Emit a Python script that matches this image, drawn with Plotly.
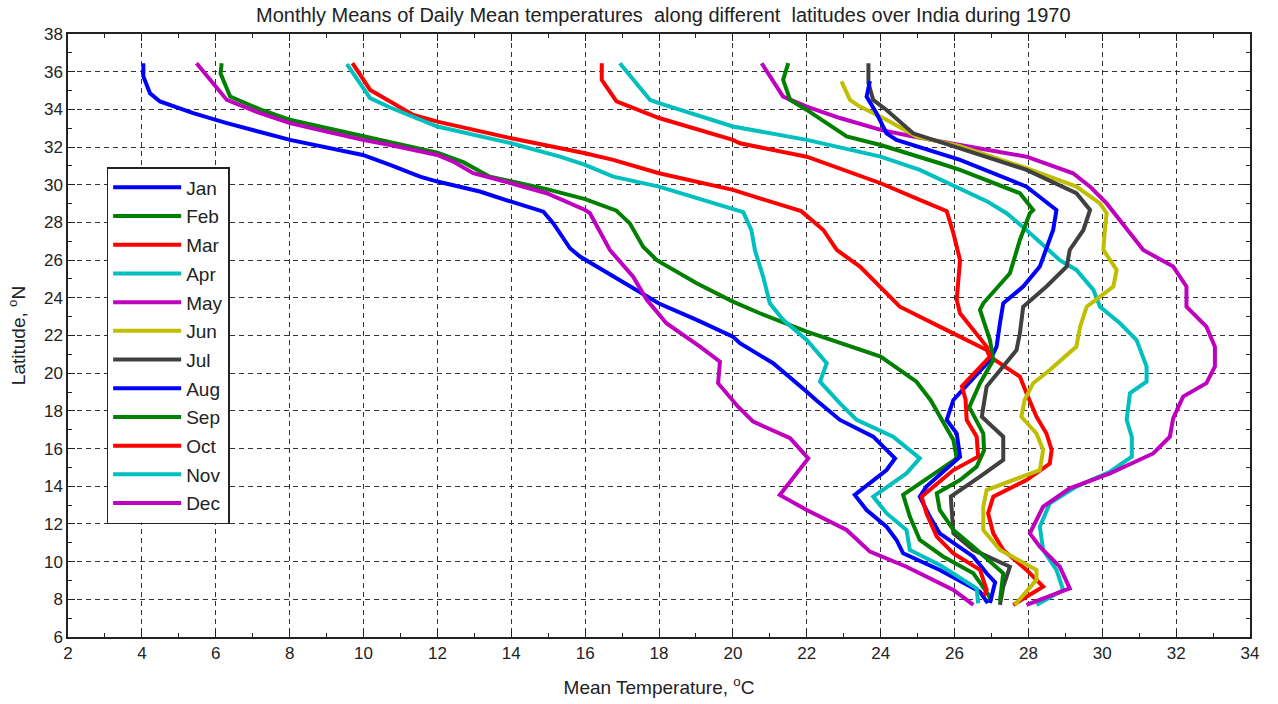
import plotly.graph_objects as go

months = ["Jan", "Feb", "Mar", "Apr", "May", "Jun", "Jul", "Aug", "Sep", "Oct", "Nov", "Dec"]
colors = ["#0000FF", "#008000", "#FF0000", "#00BFBF", "#BF00BF", "#BFBF00",
          "#404040", "#0000FF", "#008000", "#FF0000", "#00BFBF", "#BF00BF"]

jan_lat = [36.45, 35.75, 34.86, 34.42, 33.8, 33.27, 32.38, 31.58, 31.05, 30.43, 30.17, 29.64, 29.1, 28.57, 27.95, 26.63,
           26.19, 25.12, 24.15, 23.7, 22.83, 21.94, 21.59, 20.53, 19.02, 18.58, 17.52, 16.63, 15.48, 14.86, 13.54, 12.74,
           11.85, 11.15, 10.44, 9.56, 8.4, 7.8]
jan_temp = [4.04, 4.04, 4.22, 4.49, 5.39, 6.3, 8.01, 9.98, 10.72, 11.53, 12.0, 13.15, 14.0, 14.87, 15.14, 15.59,
            15.86, 16.76, 17.57, 18.0, 19.02, 20.0, 20.19, 21.09, 22.0, 22.25, 22.9, 23.8, 24.39, 24.16, 23.3, 23.62,
            24.16, 24.43, 24.61, 25.6, 26.69, 26.9]

feb_lat = [36.45, 35.9, 34.68, 34.0, 33.45, 33.0, 32.55, 32.1, 31.7, 31.2, 30.43, 29.77, 29.24, 28.62, 27.95, 26.71,
           26.0, 24.77, 23.8, 23.18, 22.2, 20.88, 19.55, 18.58, 17.69, 16.46, 15.48, 13.54, 12.39, 11.15, 10.26, 9.38,
           8.3, 7.9]
feb_temp = [6.16, 6.13, 6.39, 7.2, 8.0, 9.0, 10.0, 11.0, 12.0, 12.7, 13.42, 14.96, 16.0, 16.85, 17.21, 17.57,
            17.94, 19.02, 20.0, 20.73, 22.0, 24.0, 24.97, 25.35, 25.6, 25.97, 26.06, 24.61, 24.79, 25.06, 25.7, 26.51,
            26.9, 27.0]

mar_lat = [36.45, 35.03, 34.42, 33.7, 33.35, 32.47, 31.67, 31.32, 30.61, 29.73, 29.28, 28.6, 27.6, 26.54, 25.66, 23.53,
           22.47, 21.23, 20.88, 19.82, 18.94, 17.69, 16.8, 15.93, 15.2, 14.33, 13.45, 12.57, 11.5, 10.62, 9.56, 8.67,
           8.14, 7.7]
mar_temp = [9.7, 10.18, 10.72, 11.35, 12.0, 14.0, 16.0, 16.76, 18.0, 20.0, 20.73, 21.85, 22.45, 22.81, 23.44, 24.52,
            25.6, 26.87, 26.96, 27.77, 27.95, 28.22, 28.49, 28.63, 28.58, 27.95, 27.05, 26.91, 27.05, 27.32, 27.95, 28.4,
            27.95, 27.59]

apr_lat = [36.45, 34.5, 34.33, 33.09, 32.38, 31.49, 30.79, 29.95, 29.1, 28.49, 27.6, 26.0, 25.48, 24.42, 23.53, 22.65,
           21.76, 20.35, 19.55, 18.94, 17.52, 16.63, 15.57, 14.77, 13.98, 13.1, 11.85, 10.62, 9.56, 8.5, 7.7]
apr_temp = [16.94, 17.76, 18.0, 20.0, 22.0, 24.0, 25.06, 26.0, 26.9, 27.41, 27.95, 28.85, 29.3, 29.76, 29.94, 30.48,
            30.93, 31.2, 31.2, 30.75, 30.66, 30.8, 30.8, 30.21, 29.3, 28.58, 28.31, 28.4, 28.76, 28.94, 28.22]

may_lat = [36.45, 34.68, 34.15, 33.54, 32.91, 32.56, 32.11, 31.49, 30.61, 29.9, 29.01, 28.14, 26.54, 25.66, 24.6, 23.53,
           22.47, 21.41, 20.35, 19.47, 18.76, 17.6, 16.63, 15.74, 14.68, 13.89, 12.92, 11.5, 10.79, 9.73, 8.58, 7.7]
may_temp = [20.78, 21.36, 22.0, 22.9, 24.0, 24.88, 26.15, 27.95, 29.21, 29.67, 30.12, 30.48, 31.11, 31.92, 32.28, 32.28,
            32.82, 33.05, 33.05, 32.82, 32.19, 31.92, 31.83, 31.38, 30.21, 29.12, 28.4, 28.04, 28.31, 28.85, 29.12, 27.95]

jun_lat = [35.49, 34.5, 34.15, 33.45, 32.56, 32.05, 30.88, 29.9, 29.01, 28.49, 27.6, 26.54, 25.48, 24.6, 23.53, 22.47,
           21.41, 20.17, 19.47, 18.58, 17.69, 16.8, 15.93, 14.86, 13.8, 12.92, 11.68, 10.62, 9.56, 9.03, 7.7]
jun_temp = [22.94, 23.17, 23.44, 24.16, 24.97, 26.15, 27.95, 29.3, 29.94, 30.12, 30.07, 30.03, 30.39, 30.3, 29.58, 29.4,
            29.3, 28.58, 28.13, 27.9, 27.81, 28.22, 28.4, 28.31, 26.87, 26.78, 26.78, 27.23, 28.22, 28.22, 27.63]

jul_lat = [36.45, 35.4, 34.5, 33.97, 32.73, 31.93, 30.79, 29.55, 28.66, 27.6, 26.54, 25.66, 24.6, 23.53, 22.12, 21.23,
           19.99, 19.29, 18.2, 17.69, 16.63, 15.4, 14.51, 13.8, 13.45, 11.5, 10.62, 9.73, 8.67, 7.7]
jul_temp = [23.67, 23.67, 23.8, 24.16, 24.88, 26.15, 27.95, 29.3, 29.67, 29.49, 29.12, 29.04, 28.49, 27.86, 27.77, 27.68,
            27.14, 26.87, 26.78, 26.74, 27.32, 27.32, 26.69, 26.15, 25.9, 25.97, 26.51, 27.5, 27.32, 27.23]

aug_lat = [35.5, 34.68, 33.79, 32.73, 32.38, 31.67, 31.32, 29.9, 28.66, 27.6, 25.66, 24.6, 23.71, 22.65, 21.41, 20.7,
           18.94, 18.58, 17.52, 16.8, 15.57, 13.98, 13.45, 12.39, 11.5, 10.26, 9.38, 8.9, 7.8]
aug_temp = [23.71, 23.62, 23.89, 24.16, 24.43, 25.6, 26.15, 27.95, 28.76, 28.67, 28.31, 27.86, 27.32, 27.23, 27.14, 26.96,
            26.15, 25.97, 25.79, 26.06, 26.15, 25.24, 25.06, 25.33, 25.6, 26.51, 26.87, 27.1, 26.96]

sep_lat = [36.45, 35.57, 34.5, 33.97, 32.56, 32.11, 31.14, 30.79, 29.55, 28.66, 28.49, 27.07, 25.3, 23.71, 23.36, 21.76,
           20.7, 19.47, 18.2, 16.8, 15.9, 15.04, 14.33, 13.63, 12.74, 11.68, 10.79, 9.73, 9.38, 7.9]
sep_temp = [21.5, 21.36, 21.55, 22.0, 23.08, 24.0, 25.6, 26.15, 27.77, 28.13, 28.04, 27.77, 27.5, 26.78, 26.69, 26.96,
            27.05, 26.69, 26.4, 26.78, 26.8, 26.6, 26.15, 25.52, 25.6, 25.97, 26.51, 27.14, 27.32, 27.23]

oct_lat = [36.45, 35.57, 34.42, 33.54, 32.38, 32.2, 31.49, 30.08, 29.2, 28.6, 27.43, 26.0, 23.89, 23.18, 21.41, 20.88,
           19.3, 18.6, 17.52, 16.63, 15.57, 14.86, 13.45, 12.57, 11.33, 10.44, 9.56, 8.5, 8.2]
oct_temp = [16.45, 16.45, 16.85, 18.0, 20.0, 20.19, 22.0, 24.0, 25.06, 25.79, 25.97, 26.15, 26.06, 26.15, 26.87, 26.96,
            26.2, 26.3, 26.33, 26.6, 26.64, 25.97, 25.11, 25.24, 25.52, 25.97, 26.69, 26.87, 26.8]

nov_lat = [36.4, 34.6, 34.1, 33.09, 32.2, 31.49, 31.05, 30.43, 29.9, 28.75, 28.55, 27.6, 26.5, 25.12, 23.71, 22.83,
           21.76, 20.53, 19.55, 18.4, 17.52, 16.63, 15.48, 14.68, 13.45, 12.57, 11.68, 10.62, 9.82, 8.58, 7.79]
nov_temp = [9.55, 10.18, 10.72, 12.0, 14.0, 15.32, 16.0, 16.76, 18.0, 20.0, 20.28, 20.5, 20.6, 20.82, 21.0, 21.36,
            22.0, 22.54, 22.36, 22.9, 23.35, 24.34, 25.06, 24.7, 23.8, 24.16, 24.7, 24.79, 25.6, 26.6, 26.64]

dec_lat = [36.45, 34.5, 33.8, 33.27, 32.82, 32.38, 32.11, 31.58, 31.23, 30.61, 30.08, 29.55, 28.66, 28.49, 26.54, 25.12,
           23.89, 22.65, 21.41, 20.61, 19.47, 18.22, 17.43, 16.55, 15.48, 13.54, 12.74, 11.68, 10.53, 9.73, 8.5, 7.7]
dec_temp = [5.48, 6.3, 7.2, 8.01, 9.0, 9.98, 10.72, 12.0, 12.43, 12.97, 14.0, 14.96, 16.0, 16.13, 16.67, 17.3,
            17.67, 18.2, 19.11, 19.65, 19.6, 20.14, 20.55, 21.55, 22.04, 21.27, 22.0, 23.08, 23.71, 24.7, 25.97, 26.51]

lats = [jan_lat, feb_lat, mar_lat, apr_lat, may_lat, jun_lat, jul_lat, aug_lat, sep_lat, oct_lat, nov_lat, dec_lat]
temps = [jan_temp, feb_temp, mar_temp, apr_temp, may_temp, jun_temp, jul_temp, aug_temp, sep_temp, oct_temp,
         nov_temp, dec_temp]

x_ticks = list(range(2, 35, 2))
y_ticks = list(range(6, 39, 2))

FONT = "Liberation Sans Narrow, Arial Narrow, Liberation Sans, Arial, sans-serif"
INK = "#222222"

fig = go.Figure()
for name, lat, temp, col in zip(months, lats, temps, colors):
    fig.add_trace(go.Scatter(x=temp, y=lat, mode="lines", name=name, legendgroup=name,
                             line=dict(color=col, width=4)))

fig.update_layout(
    width=1278, height=704,
    margin=dict(l=68, r=28, t=34, b=67),
    paper_bgcolor="white", plot_bgcolor="white",
    font=dict(family=FONT, color=INK, size=16),
    title=dict(text="Monthly Means of Daily Mean temperatures&nbsp; along different&nbsp; latitudes over India during 1970",
               x=0.519, xanchor="center", y=0.979, yanchor="middle", yref="container",
               font=dict(size=20, color=INK)),
    legend=dict(x=0.0327, y=0.7794, xanchor="left", yanchor="top",
                bgcolor="white", bordercolor=INK, borderwidth=1.5,
                font=dict(size=19, color=INK), itemwidth=68,
                traceorder="grouped", tracegroupgap=1),
    showlegend=True,
)

axis_common = dict(
    showgrid=True, gridcolor="#333333", gridwidth=1.3, griddash="5px,4px",
    showline=True, linecolor=INK, linewidth=1.5, mirror="ticks",
    ticks="inside", ticklen=7, tickcolor=INK, tickwidth=1.2,
    zeroline=False, automargin=False,
    tickfont=dict(size=17, color=INK),
)

fig.update_xaxes(range=[2, 34], tickvals=x_ticks, ticktext=[str(v) for v in x_ticks],
                 minor=dict(dtick=1, tick0=2, ticks="inside", ticklen=4, tickcolor=INK, showgrid=False),
                 title=dict(text="Mean Temperature, <sup>o</sup>C", standoff=19, font=dict(size=19)),
                 **axis_common)
fig.update_yaxes(range=[6, 38], tickvals=y_ticks, ticktext=[str(v) for v in y_ticks],
                 minor=dict(dtick=1, tick0=6, ticks="inside", ticklen=4, tickcolor=INK, showgrid=False),
                 title=dict(text="Latitude, <sup>o</sup>N", standoff=13, font=dict(size=19)),
                 **axis_common)

fig.write_html("out.html", config={"displayModeBar": False},
               post_script="document.body.style.margin='0';")
